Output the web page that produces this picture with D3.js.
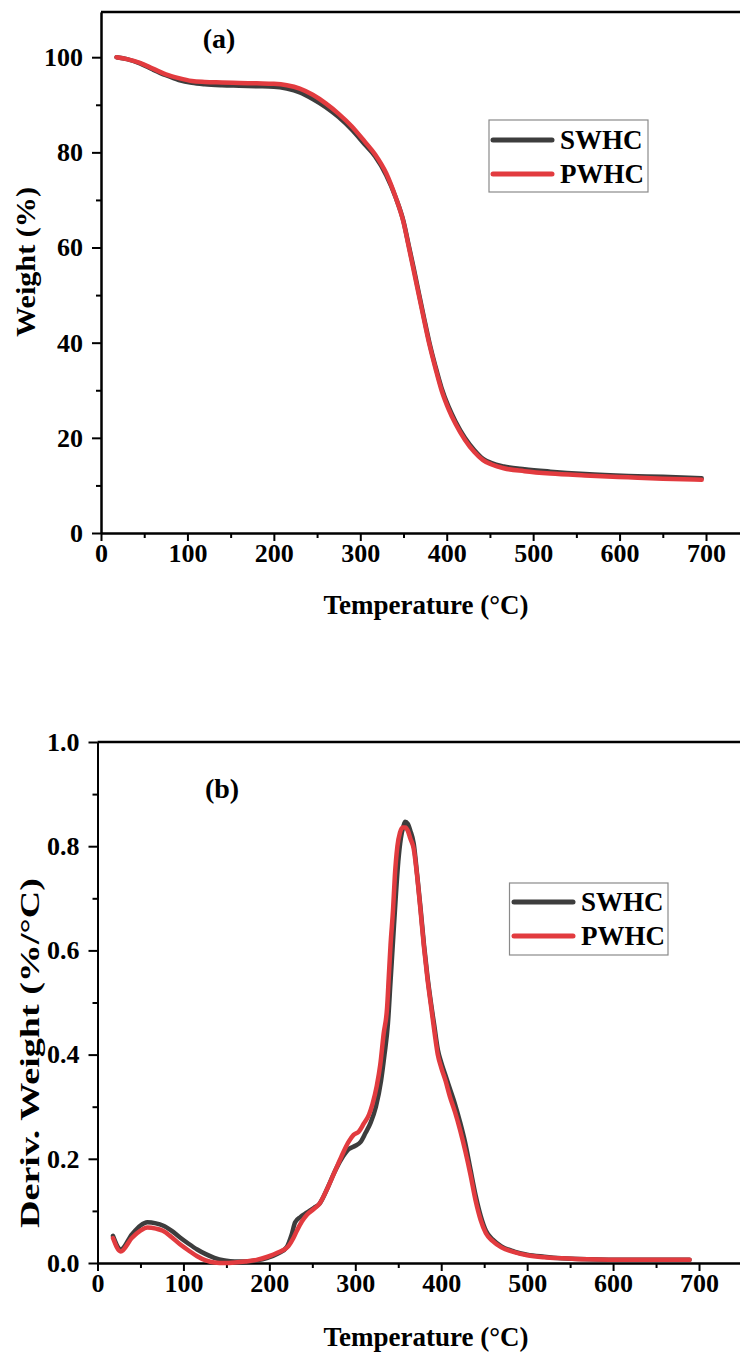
<!DOCTYPE html>
<html><head><meta charset="utf-8">
<script src="https://cdn.jsdelivr.net/npm/d3@7"></script>
<style>html,body{margin:0;padding:0;background:#fff;}svg{display:block;}</style>
</head><body>
<svg id="chart" width="740" height="1353"></svg>
<script>
// ---------- DATA ----------
const seriesNames = ["SWHC", "PWHC"];
const xTicks = [0, 100, 200, 300, 400, 500, 600, 700];
const xMinorTicks = [50, 150, 250, 350, 450, 550, 650];
const yTicksA = [0, 20, 40, 60, 80, 100];
const yMinorTicksA = [10, 30, 50, 70, 90];
const yTicksB = [0, 0.2, 0.4, 0.6, 0.8, 1.0];
const yMinorTicksB = [0.1, 0.3, 0.5, 0.7, 0.9];

// TGA (a)
const tgaTemp = [18, 30, 45, 60, 75, 90, 105, 120, 140, 160, 180, 200, 215, 230, 245, 260, 275, 290, 305, 317, 330, 341, 350, 356, 362, 368, 374, 380, 387, 394, 402, 410, 421, 432, 442, 452, 466, 490, 520, 560, 610, 650, 695];
const tgaSWHC = [100, 99.6, 98.7, 97.4, 96.2, 95.2, 94.6, 94.3, 94.1, 94.0, 93.9, 93.8, 93.4, 92.6, 91.2, 89.5, 87.4, 84.8, 81.7, 79.2, 75.2, 70.5, 65.5, 60.5, 55.5, 50.2, 45.0, 40.0, 35.0, 30.5, 26.6, 23.5, 20.0, 17.4, 15.6, 14.7, 14.0, 13.4, 12.9, 12.4, 12.0, 11.8, 11.5];
const tgaPWHC = [100, 99.6, 98.8, 97.6, 96.4, 95.6, 95.0, 94.8, 94.7, 94.6, 94.5, 94.4, 94.1, 93.4, 92.1, 90.3, 88.1, 85.5, 82.3, 79.6, 75.6, 70.5, 65.3, 60.2, 55.0, 49.8, 44.6, 39.6, 34.6, 30.0, 26.1, 23.0, 19.6, 17.0, 15.3, 14.4, 13.6, 13.0, 12.5, 12.1, 11.7, 11.4, 11.2];

// DTG (b)
const dtgTempSWHC = [18, 27, 40, 50, 58, 68, 76, 86, 96, 106, 116, 126, 136, 148, 160, 172, 185, 198, 210, 220, 226, 230, 236, 244, 252, 258, 268, 276, 284, 292, 300, 306, 312, 318, 324, 330, 334, 338, 341, 344, 347, 350, 353, 356, 358, 361, 364, 368, 372, 376, 380, 384, 388, 392, 396, 400, 405, 410, 416, 422, 428, 434, 440, 446, 452, 460, 470, 485, 500, 520, 540, 570, 620, 689];
const dtgSWHC = [0.052, 0.026, 0.055, 0.072, 0.078, 0.076, 0.072, 0.062, 0.049, 0.037, 0.026, 0.017, 0.010, 0.005, 0.003, 0.003, 0.005, 0.010, 0.018, 0.030, 0.055, 0.078, 0.088, 0.097, 0.106, 0.113, 0.145, 0.175, 0.200, 0.218, 0.225, 0.232, 0.250, 0.270, 0.300, 0.350, 0.400, 0.460, 0.540, 0.620, 0.700, 0.770, 0.815, 0.838, 0.847, 0.843, 0.830, 0.805, 0.745, 0.680, 0.610, 0.550, 0.500, 0.455, 0.410, 0.385, 0.360, 0.335, 0.305, 0.270, 0.230, 0.180, 0.130, 0.090, 0.062, 0.045, 0.032, 0.022, 0.016, 0.012, 0.009, 0.007, 0.006, 0.006];
const dtgTempPWHC = [18, 27, 40, 50, 58, 68, 76, 86, 96, 106, 116, 126, 136, 148, 160, 172, 185, 198, 210, 222, 228, 232, 238, 244, 252, 258, 268, 276, 284, 292, 298, 304, 310, 316, 320, 325, 329, 333, 337, 339, 341, 344, 346, 349, 352, 355, 358, 361, 364, 368, 372, 376, 380, 384, 388, 392, 396, 400, 405, 410, 416, 422, 428, 434, 440, 446, 452, 460, 470, 485, 500, 520, 540, 570, 620, 689];
const dtgPWHC = [0.048, 0.022, 0.048, 0.062, 0.068, 0.066, 0.062, 0.050, 0.036, 0.024, 0.013, 0.005, 0.001, 0.000, 0.001, 0.003, 0.006, 0.012, 0.020, 0.032, 0.048, 0.062, 0.080, 0.093, 0.104, 0.113, 0.145, 0.175, 0.205, 0.232, 0.246, 0.252, 0.268, 0.285, 0.305, 0.340, 0.380, 0.440, 0.490, 0.550, 0.610, 0.680, 0.742, 0.800, 0.826, 0.836, 0.836, 0.830, 0.815, 0.795, 0.742, 0.675, 0.605, 0.545, 0.495, 0.445, 0.400, 0.375, 0.350, 0.320, 0.290, 0.255, 0.215, 0.170, 0.120, 0.082, 0.057, 0.042, 0.030, 0.021, 0.015, 0.011, 0.009, 0.007, 0.006, 0.006];

// ---------- STYLE ----------
const colors = {SWHC: "#3d3d3d", PWHC: "#e23b3f"};
const FONT = "'Liberation Serif','Times New Roman',Times,serif";

const svg = d3.select("#chart");
svg.append("rect").attr("width", 740).attr("height", 1353).attr("fill", "#fff");

function panel(opts) {
  const {x, y, yTicks, yMinor, yFmt, top, bottom, left} = opts;
  const g = svg.append("g");
  // x axis major
  const gx = g.append("g").attr("transform", `translate(0,${bottom})`)
    .call(d3.axisBottom(x).tickValues(xTicks).tickSize(8).tickPadding(3).tickSizeOuter(0).tickFormat(d3.format("d")));
  g.append("g").attr("transform", `translate(0,${bottom})`)
    .call(d3.axisBottom(x).tickValues(xMinorTicks).tickSize(5).tickSizeOuter(0).tickFormat(""));
  // y axis
  const gy = g.append("g").attr("transform", `translate(${left},0)`)
    .call(d3.axisLeft(y).tickValues(yTicks).tickSize(9).tickPadding(9).tickSizeOuter(0).tickFormat(yFmt));
  g.append("g").attr("transform", `translate(${left},0)`)
    .call(d3.axisLeft(y).tickValues(yMinor).tickSize(5).tickSizeOuter(0).tickFormat(""));
  g.selectAll(".domain").attr("stroke", "#000").attr("stroke-width", 2);
  g.selectAll(".tick line").attr("stroke", "#000").attr("stroke-width", 2);
  g.selectAll(".tick text").attr("font-family", FONT).attr("font-size", 26).attr("font-weight", "bold").attr("fill", "#000");
  g.selectAll("g").attr("font-size", 26).attr("font-family", FONT);
  // top border
  g.append("line").attr("x1", left).attr("x2", 740).attr("y1", top).attr("y2", top)
    .attr("stroke", "#000").attr("stroke-width", 2.5);
  return g;
}

function drawSeries(g, x, y, temps, vals, color) {
  const pts = temps.map((t, i) => [t, vals[i]]);
  const line = d3.line().x(d => x(d[0])).y(d => y(d[1])).curve(d3.curveMonotoneX);
  g.append("path").attr("d", line(pts)).attr("fill", "none")
    .attr("stroke", color).attr("stroke-width", 4.5)
    .attr("stroke-linecap", "round").attr("stroke-linejoin", "round");
}

function legend(g, bx, by, bw, bh, lx1, lx2, ly, tx) {
  g.append("rect").attr("x", bx).attr("y", by).attr("width", bw).attr("height", bh)
    .attr("fill", "#fff").attr("stroke", "#8a8a8a").attr("stroke-width", 1.2);
  seriesNames.forEach((n, i) => {
    g.append("line").attr("x1", lx1).attr("x2", lx2).attr("y1", ly[i]).attr("y2", ly[i])
      .attr("stroke", colors[n]).attr("stroke-width", 5).attr("stroke-linecap", "round");
    g.append("text").attr("x", tx).attr("y", ly[i] + 9).text(n)
      .attr("font-family", FONT).attr("font-size", 27).attr("font-weight", "bold").attr("fill", "#000");
  });
}

function label(g, txt, x, y, size, anchor, rotate, len) {
  const t = g.append("text").attr("font-family", FONT).attr("font-size", size)
    .attr("font-weight", "bold").attr("fill", "#000").attr("text-anchor", anchor).text(txt);
  if (rotate) {
    t.attr("transform", `translate(${x},${y}) rotate(-90)`).attr("dominant-baseline", "central");
  } else {
    t.attr("x", x).attr("y", y);
  }
  if (len) t.attr("textLength", len).attr("lengthAdjust", "spacingAndGlyphs");
}

// ---------- PANEL A ----------
const xa = d3.scaleLinear().domain([0, 750]).range([101, 101 + 750 * 0.8643]);
const ya = d3.scaleLinear().domain([0, 109.5]).range([533, 12]);
const ga = panel({x: xa, y: ya, yTicks: yTicksA, yMinor: yMinorTicksA, yFmt: d3.format("d"), top: 12, bottom: 533, left: 101});
drawSeries(ga, xa, ya, tgaTemp, tgaSWHC, colors.SWHC);
drawSeries(ga, xa, ya, tgaTemp, tgaPWHC, colors.PWHC);
legend(ga, 489, 120, 159, 72, 493, 552, [140, 174], 560);
label(ga, "(a)", 219, 48, 28, "middle");
label(ga, "Weight (%)", 25, 262, 28, "middle", true, 150);
label(ga, "Temperature (°C)", 426, 614, 27, "middle");

// ---------- PANEL B ----------
const xb = d3.scaleLinear().domain([0, 750]).range([97.5, 97.5 + 750 * 0.8593]);
const yb = d3.scaleLinear().domain([0, 1]).range([1263, 742]);
const gb = panel({x: xb, y: yb, yTicks: yTicksB, yMinor: yMinorTicksB, yFmt: d3.format(".1f"), top: 742, bottom: 1263, left: 97.5});
drawSeries(gb, xb, yb, dtgTempSWHC, dtgSWHC, colors.SWHC);
drawSeries(gb, xb, yb, dtgTempPWHC, dtgPWHC, colors.PWHC);
legend(gb, 509.5, 883, 158.5, 72, 514, 573, [902, 936], 581);
label(gb, "(b)", 222, 798, 28, "middle");
label(gb, "Deriv. Weight (%/°C)", 29, 1053, 28, "middle", true, 350);
label(gb, "Temperature (°C)", 426, 1346, 27, "middle");
</script>
</body></html>
